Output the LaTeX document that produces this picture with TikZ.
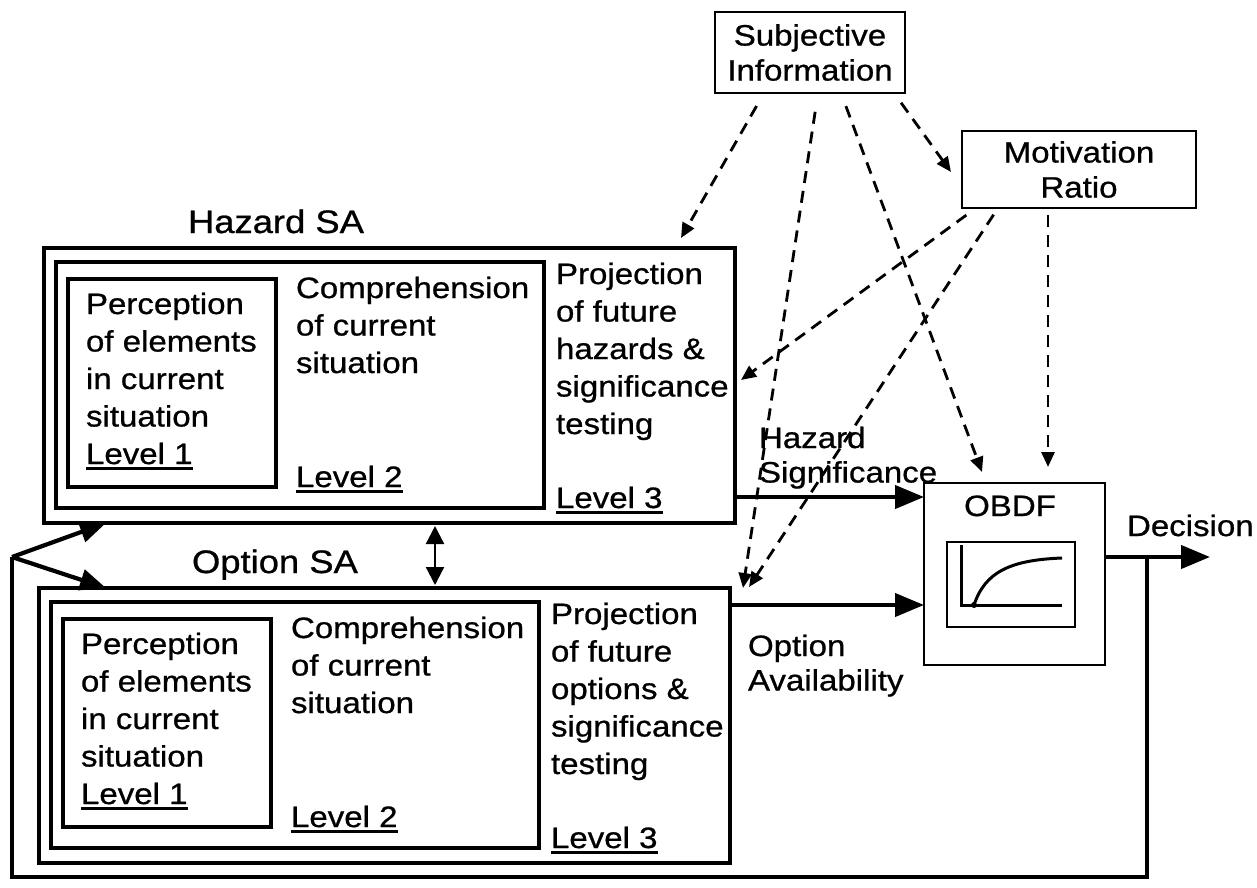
\documentclass[tikz,border=0pt]{standalone}
\usepackage{fontspec}
\setmainfont{Liberation Sans}[FakeStretch=1.12, FakeBold=0.8]
\usetikzlibrary{arrows.meta,calc}

% underlined level tag with a heavier rule
\newcommand{\lvl}[1]{\leavevmode\vtop{\hbox{#1}\kern3pt\hrule height 2.4pt}}
% left-aligned stack of lines, baseline on the first line
\newcommand{\stack}[1]{\begin{tabular}[t]{@{}l@{}}#1\end{tabular}}

% one SA block: #1 prefix, #2/#3 shift, #4 title, #5 title x, #6 projected item
\newcommand{\saBlock}[6]{%
  \begin{scope}[shift={(#2,#3)}]
    \node[title] (#1Title) at (#5,233) {#4};
    \node[frame, minimum width=691pt, minimum height=275pt] (#1Outer) at (44,248) {};
    \node[frame, minimum width=488pt, minimum height=246pt] (#1Mid) at (56,262) {};
    \node[frame, minimum width=208pt, minimum height=208pt] (#1Inner) at (68,279) {};
    \node[body] (#1Perc) at (86,314)
      {\stack{Perception\\of elements\\in current\\situation\\\lvl{Level 1}}};
    \node[body] (#1Comp) at (296,298) {\stack{Comprehension\\of current\\situation}};
    \node[body] (#1LvlB) at (296,487) {\lvl{Level 2}};
    \node[body] (#1Proj) at (556,284)
      {\stack{Projection\\of future\\#6 \&\\significance\\testing}};
    \node[body] (#1LvlC) at (556,508) {\lvl{Level 3}};
  \end{scope}}

\begin{document}
\begin{tikzpicture}[x=1pt,y=-1pt,
  every node/.style={outer sep=0pt},
  frame/.style={draw, line width=4.5pt, inner sep=0pt, anchor=north west},
  thinbox/.style={draw, line width=2.2pt, inner sep=0pt, anchor=north west,
    align=center, font=\fontsize{29.5}{35}\selectfont},
  body/.style={inner sep=0pt, anchor=base west, font=\fontsize{29.5}{37.5}\selectfont},
  side/.style={inner sep=0pt, anchor=base west, font=\fontsize{29.5}{34.5}\selectfont},
  title/.style={inner sep=0pt, anchor=base west, font=\fontsize{32.5}{38}\selectfont},
  dasharrow/.style={line width=2.8pt, dash pattern=on 12pt off 8pt,
    -{Triangle[length=15pt,width=13pt]}},
  flow/.style={line width=4.2pt, -{Triangle[length=29pt,width=23pt]}},
  feed/.style={line width=4.2pt, -{Triangle[length=26pt,width=21pt]}}
]
\fill[white] (0,0) rectangle (1257,887);
\useasboundingbox (0,0) rectangle (1257,887);

% situation awareness blocks
\saBlock{hz}{0}{0}{Hazard SA}{188}{hazards}
\saBlock{op}{-5}{340}{Option SA}{197}{options}

% input boxes
\node[thinbox, minimum width=190pt, minimum height=81pt] (subj) at (715,12) {Subjective\\Information};
\node[thinbox, minimum width=234pt, minimum height=77pt] (motiv) at (962,131) {Motivation\\Ratio};

% decision function box with its small curve plot
\node[draw, line width=2.2pt, inner sep=0pt, anchor=north west,
  minimum width=181pt, minimum height=182pt] (obdf) at (924,483) {};
\node[body, anchor=base] (obdfLabel) at (1010,516) {OBDF};
\node[draw, line width=2.5pt, inner sep=0pt, anchor=north west,
  minimum width=128pt, minimum height=85pt] (plot) at (947,542) {};
\begin{scope}[shift={(plot.south west)}]
  \draw[line width=3pt, line join=miter] (14,-82) -- (14,-22) -- (115,-22);
  \draw[line width=3pt] (27,-22) .. controls (38,-55) and (63,-67) .. (115,-69);
  \fill (27,-22) circle (3pt);
\end{scope}

% output labels
\node[side] (hazSig) at (759,448) {\stack{Hazard\\Significance}};
\node[side] (optAv) at (748,656) {\stack{Option\\Availability}};
\node[body] (decision) at (1127,536) {Decision};

% solid flows into and out of the decision function
\coordinate (hsigStart) at ($(hzOuter.south east)+(0,-26)$);
\draw[flow] (hsigStart) -- (hsigStart -| obdf.west);
\coordinate (oavStart) at ($(opOuter.north east)+(0,17)$);
\draw[flow] (oavStart) -- (oavStart -| obdf.west);
\coordinate (decStart) at ($(obdf.east)+(0,-17)$);
\coordinate (decEnd) at ($(decStart)+(105,0)$);
\draw[flow] (decStart) -- (decEnd);

% feedback loop back to both SA blocks
\coordinate (fbTap) at ($(decStart)+(42,0)$);
\coordinate (fbCorner) at (12,877);
\coordinate (fbJoin) at (12,557);
\draw[line width=4.2pt, line join=miter] (fbTap) |- (fbCorner) -- (fbJoin);
\draw[feed] (fbJoin) -- ($(hzOuter.south west)+(62,0)$);
\draw[feed] (fbJoin) -- ($(opOuter.north west)+(67,0)$);

% link between the two SA blocks
\draw[line width=2.2pt, shorten <=3pt, shorten >=3pt,
  {Triangle[length=18pt,width=18pt]}-{Triangle[length=18pt,width=18pt]}]
  ($(hzOuter.south west)+(391,0)$) -- ($(opOuter.north west)+(396,0)$);

% subjective influences
\draw[dasharrow, shorten <=15pt] ($(subj.south west)+(49,0)$) -- ($(hzOuter.north west)+(637,-10)$);
\draw[dasharrow, shorten <=19pt] ($(subj.south west)+(103,0)$) -- ($(opOuter.north east)+(13,0)$);
\draw[dasharrow, shorten <=14pt] ($(subj.south west)+(126,0)$) -- ($(obdf.north west)+(58,-11)$);
\draw[dasharrow, shorten <=12pt] ($(subj.south west)+(179,0)$) -- ($(motiv.north west)+(-11,41)$);
\draw[dasharrow, shorten <=12pt] ($(motiv.south west)+(14,0)$) -- ($(hzOuter.north east)+(6,132)$);
\draw[dasharrow, shorten <=8pt] ($(motiv.south west)+(36,0)$) -- ($(opOuter.north east)+(19,-1)$);
\draw[dasharrow, shorten <=7pt] ($(motiv.south west)+(86,0)$) -- ($(obdf.north west)+(124,-16)$);
\end{tikzpicture}
\end{document}
